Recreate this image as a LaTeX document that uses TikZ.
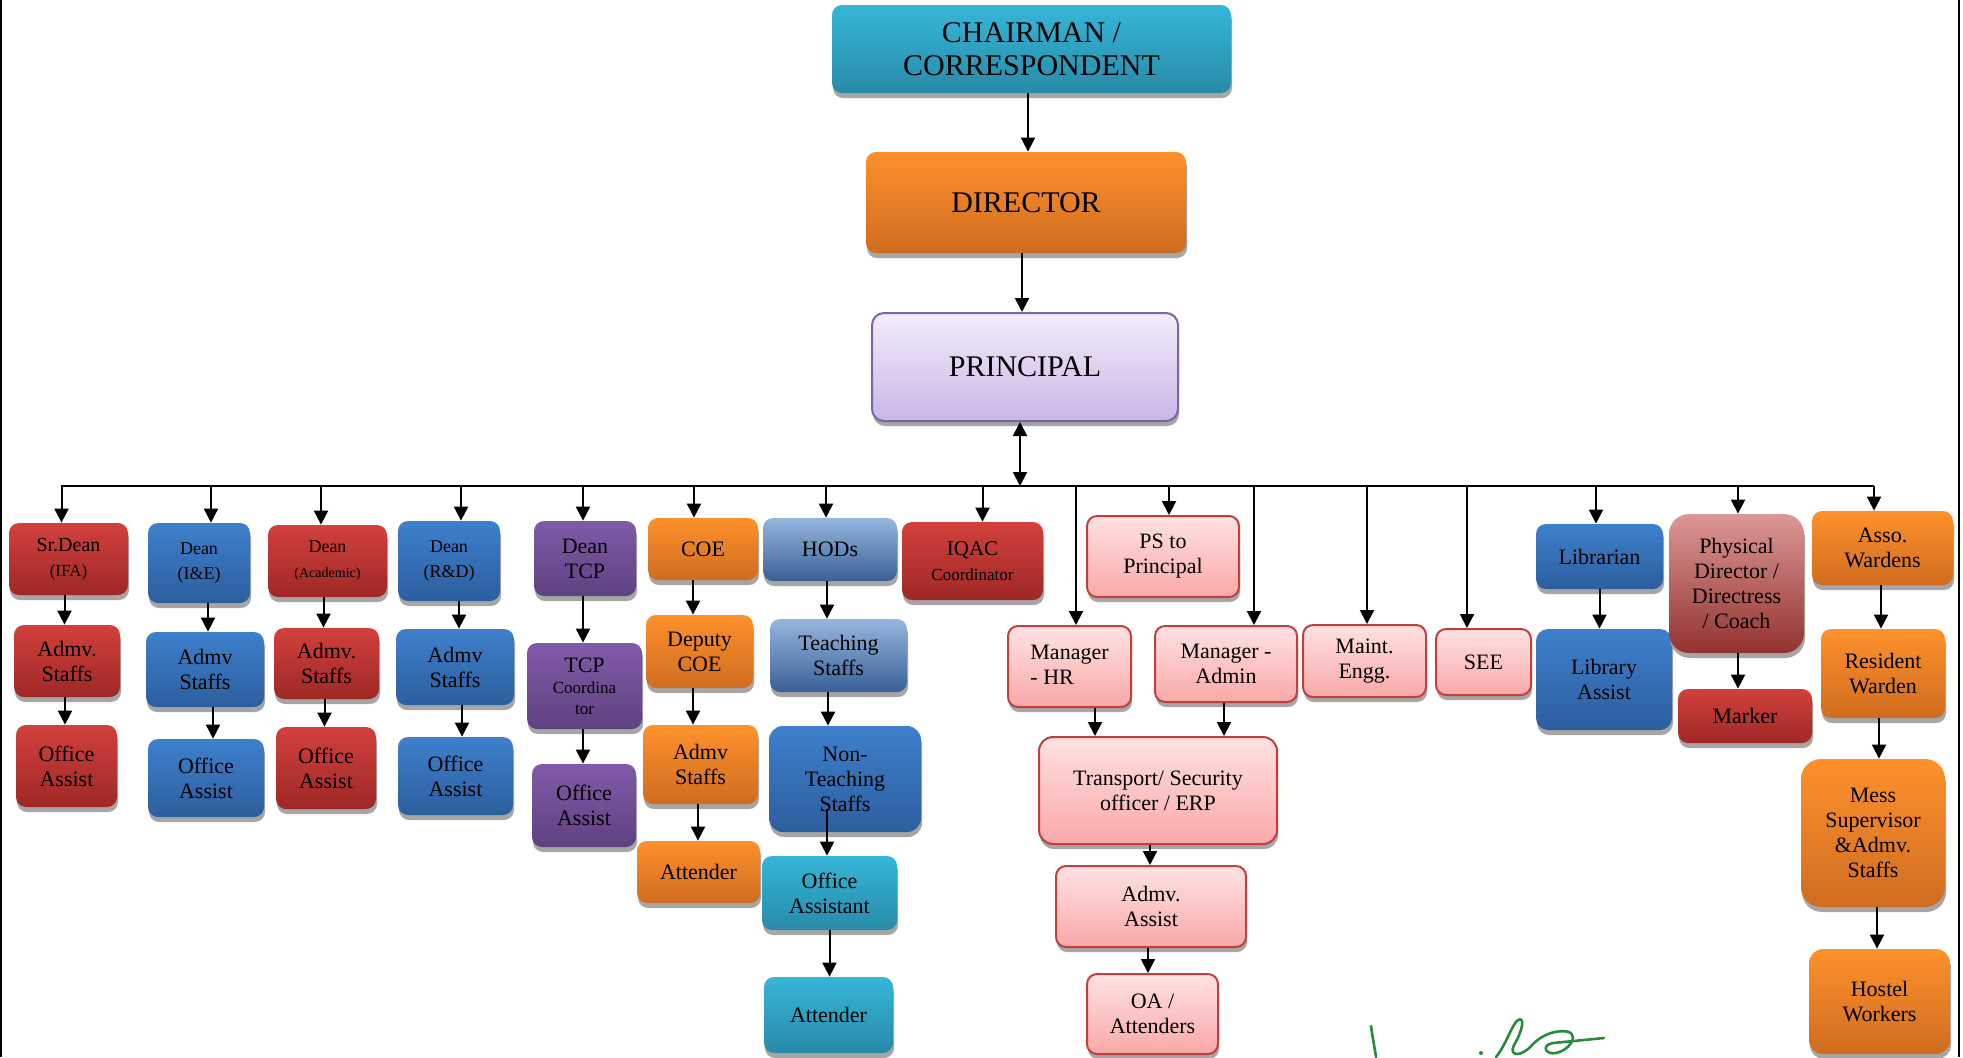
\documentclass[tikz,border=0pt]{standalone}
\usepackage{fontspec}
\setmainfont{Liberation Serif}
\usetikzlibrary{arrows.meta,shadows}
\definecolor{redtop}{RGB}{210,64,60}
\definecolor{redbot}{RGB}{158,40,38}
\definecolor{bluetop}{RGB}{62,128,204}
\definecolor{bluebot}{RGB}{44,94,158}
\definecolor{purptop}{RGB}{128,90,168}
\definecolor{purpbot}{RGB}{94,66,128}
\definecolor{orgtop}{RGB}{253,145,44}
\definecolor{orgbot}{RGB}{208,108,32}
\definecolor{cyantop}{RGB}{54,182,216}
\definecolor{cyanbot}{RGB}{40,138,168}
\definecolor{steeltop}{RGB}{150,182,222}
\definecolor{steelbot}{RGB}{58,96,150}
\definecolor{pinktop}{RGB}{255,226,226}
\definecolor{pinkbot}{RGB}{250,168,168}
\definecolor{pinkborder}{RGB}{192,64,64}
\definecolor{lavtop}{RGB}{243,237,250}
\definecolor{lavbot}{RGB}{202,182,230}
\definecolor{lavborder}{RGB}{128,100,162}
\definecolor{phystop}{RGB}{220,152,150}
\definecolor{physbot}{RGB}{146,50,48}
\definecolor{siggreen}{RGB}{40,140,60}
\newcommand\orgbox[7]{\node[#2, minimum width={(#5-#3)*0.5pt}, minimum height={(#6-#4)*0.5pt}] (#1) at ({(#3+#5)/2},{(#4+#6)/2}) {#7};}
\newcommand\dn[3][0pt]{\draw[arr] ([xshift=#1]#2.south) -- ([xshift=#1]#2.south |- #3.north);}
\newcommand\fb[2][0pt]{\draw[arr] ([xshift=#1]#2.north |- bus) -- ([xshift=#1]#2.north);}
\newcommand\fs[1]{\fontsize{#1}{12.5}\selectfont}
\begin{document}
\begin{tikzpicture}[x=0.5pt,y=-0.5pt,
  box/.style={rounded corners=5pt, align=center, inner sep=1pt, text=black,
    font=\fontsize{11}{12.5}\selectfont,
    drop shadow={shadow xshift=0.5pt, shadow yshift=-2.5pt, fill=black!35, opacity=1}},
  cred/.style={box, top color=redtop, bottom color=redbot},
  cblue/.style={box, top color=bluetop, bottom color=bluebot},
  cpurp/.style={box, top color=purptop, bottom color=purpbot},
  corg/.style={box, top color=orgtop, bottom color=orgbot},
  ccyan/.style={box, top color=cyantop, bottom color=cyanbot},
  csteel/.style={box, top color=steeltop, bottom color=steelbot},
  cpink/.style={box, draw=pinkborder, line width=1pt, top color=pinktop, bottom color=pinkbot},
  clav/.style={box, draw=lavborder, line width=1pt, top color=lavtop, bottom color=lavbot},
  cphys/.style={box, top color=phystop, bottom color=physbot},
  arr/.style={line width=1pt, -{Triangle[length=7pt,width=7pt]}},
  arrboth/.style={line width=1pt, {Triangle[length=7pt,width=7pt]}-{Triangle[length=7pt,width=7pt]}},
  busline/.style={line width=1pt},
  sig/.style={draw=siggreen, line width=1.3pt, line cap=round, line join=round}]
\useasboundingbox (0,0) rectangle (1963,1057);
\draw[line width=1pt] (1,0) -- (1,1057);
\draw[line width=1pt] (1959,0) -- (1959,1057);

% top chain
\orgbox{chair}{ccyan, font=\fontsize{15}{16.5}\selectfont}{832}{5}{1231}{93}{CHAIRMAN /\\CORRESPONDENT}
\orgbox{director}{corg, font=\fontsize{15}{16.5}\selectfont}{866}{152}{1186}{253}{DIRECTOR}
\orgbox{principal}{clav, rounded corners=6pt, font=\fontsize{15}{16.5}\selectfont}{872}{313}{1178}{421}{PRINCIPAL}

% column 1
\orgbox{srdean}{cred}{9}{523}{128}{595}{{\fs{10}Sr.Dean}\\{\fs{8.5}(IFA)}}
\orgbox{adm1}{cred}{14}{625}{120}{697}{Admv.\\Staffs}
\orgbox{off1}{cred}{16}{725}{117}{807}{Office\\Assist}
% column 2
\orgbox{deanie}{cblue, font=\fontsize{9}{12.5}\selectfont}{148}{523}{250}{603}{Dean\\(I\&E)}
\orgbox{adm2}{cblue}{146}{632}{264}{707}{Admv\\Staffs}
\orgbox{off2}{cblue}{148}{739}{264}{817}{Office\\Assist}
% column 3
\orgbox{deanac}{cred}{268}{525}{387}{597}{{\fs{9}Dean}\\{\fs{7}(Academic)}}
\orgbox{adm3}{cred}{274}{628}{379}{699}{Admv.\\Staffs}
\orgbox{off3}{cred}{276}{727}{376}{809}{Office\\Assist}
% column 4
\orgbox{deanrd}{cblue, font=\fontsize{9}{12.5}\selectfont}{398}{521}{500}{601}{Dean\\(R\&D)}
\orgbox{adm4}{cblue}{396}{629}{514}{705}{Admv\\Staffs}
\orgbox{off4}{cblue}{398}{737}{513}{815}{Office\\Assist}
% column 5
\orgbox{deantcp}{cpurp}{534}{521}{636}{596}{Dean\\TCP}
\orgbox{tcpc}{cpurp}{527}{643}{642}{729}{{\fs{11}TCP}\\[-2pt]{\fs{8.5}Coordina}\\[-2pt]{\fs{8.5}tor}}
\orgbox{off5}{cpurp}{532}{764}{636}{847}{Office\\Assist}
% column 6
\orgbox{coe}{corg}{648}{518}{758}{580}{COE}
\orgbox{dcoe}{corg}{646}{615}{753}{688}{Deputy\\COE}
\orgbox{adm5}{corg}{643}{725}{758}{804}{Admv\\Staffs}
\orgbox{att1}{corg}{637}{841}{760}{903}{Attender}
% column 7
\orgbox{hods}{csteel}{763}{518}{897}{581}{HODs}
\orgbox{teach}{csteel}{770}{619}{907}{692}{Teaching\\Staffs}
\orgbox{nonteach}{cblue, rounded corners=7pt}{769}{726}{921}{832}{Non-\\Teaching\\Staffs}
\orgbox{offa}{ccyan}{762}{856}{897}{930}{Office\\Assistant}
\orgbox{att2}{ccyan}{764}{977}{893}{1053}{Attender}
% IQAC
\orgbox{iqac}{cred}{902}{522}{1043}{600}{{\fs{10.5}IQAC}\\{\fs{8.5}Coordinator}}
% pink group
\orgbox{ps}{cpink}{1087}{516}{1239}{597}{PS to\\Principal}
\orgbox{mhr}{cpink}{1008}{626}{1131}{707}{\begin{tabular}{@{}l@{}}Manager\\- HR\end{tabular}}
\orgbox{madm}{cpink}{1155}{626}{1297}{702}{Manager -\\Admin}
\orgbox{maint}{cpink}{1303}{625}{1426}{697}{Maint.\\Engg.}
\orgbox{see}{cpink}{1436}{629}{1531}{695}{SEE}
\orgbox{trans}{cpink, rounded corners=7pt}{1039}{737}{1277}{844}{Transport/ Security\\officer / ERP}
\orgbox{admva}{cpink}{1056}{866}{1246}{947}{Admv.\\Assist}
\orgbox{oa}{cpink}{1087}{974}{1218}{1054}{OA /\\Attenders}
% library
\orgbox{lib}{cblue}{1536}{524}{1663}{589}{Librarian}
\orgbox{liba}{cblue, rounded corners=6pt}{1536}{629}{1672}{730}{Library\\Assist}
% physical
\orgbox{phys}{cphys, rounded corners=10pt}{1669}{514}{1804}{653}{Physical\\Director /\\Directress\\/ Coach}
\orgbox{marker}{cred}{1678}{689}{1812}{743}{Marker}
% wardens
\orgbox{asso}{corg}{1812}{511}{1953}{585}{Asso.\\Wardens}
\orgbox{resw}{corg}{1821}{629}{1945}{718}{Resident\\Warden}
\orgbox{mess}{corg, rounded corners=10pt}{1801}{759}{1945}{907}{Mess\\Supervisor\\\&Admv.\\Staffs}
\orgbox{hostel}{corg, rounded corners=7pt}{1809}{949}{1950}{1054}{Hostel\\Workers}

% top connectors
\dn[-1.75pt]{chair}{director}
\dn[-2pt]{director}{principal}
\coordinate (bus) at (0,486);
\draw[arrboth] ([xshift=-2.5pt]principal.south) -- ([xshift=-2.5pt]principal.south |- bus);
\draw[busline] ([xshift=-3.75pt]srdean.north |- bus) -- ([xshift=-4.25pt]asso.north |- bus);

% bus drops
\fb[-3.5pt]{srdean}
\fb[6pt]{deanie}
\fb[-3.25pt]{deanac}
\fb[6pt]{deanrd}
\fb[-1pt]{deantcp}
\fb[-4.5pt]{coe}
\fb[-2pt]{hods}
\fb[5pt]{iqac}
\fb[3.25pt]{mhr}
\fb[3pt]{ps}
\fb[14pt]{madm}
\fb[1.25pt]{maint}
\fb[-8.25pt]{see}
\fb[-1.75pt]{lib}
\fb[0.75pt]{phys}
\fb[-4.25pt]{asso}

% column chains
\dn[-2pt]{srdean}{adm1}
\dn[-1pt]{adm1}{off1}
\dn[4.5pt]{deanie}{adm2}
\dn[4pt]{adm2}{off2}
\dn[-2pt]{deanac}{adm3}
\dn[-1pt]{adm3}{off3}
\dn[5pt]{deanrd}{adm4}
\dn[3.5pt]{adm4}{off4}
\dn[-1pt]{deantcp}{tcpc}
\dn[-0.75pt]{tcpc}{off5}
\dn[-5pt]{coe}{dcoe}
\dn[-3.25pt]{dcoe}{adm5}
\dn[-1.25pt]{adm5}{att1}
\dn[-1.5pt]{hods}{teach}
\dn[-5.25pt]{teach}{nonteach}
\draw[arr] ([xshift=-9pt,yshift=11.5pt]nonteach.south) -- ([xshift=-9pt]nonteach.south |- offa.north);
\dn{offa}{att2}
\dn[12.75pt]{mhr}{trans}
\dn[-1pt]{madm}{trans}
\dn[-4pt]{trans}{admva}
\dn[-1.5pt]{admva}{oa}
\dn{lib}{liba}
\dn[0.75pt]{phys}{marker}
\dn[-0.75pt]{asso}{resw}
\dn[-2pt]{resw}{mess}
\dn[2pt]{mess}{hostel}

% signature
\draw[sig] (1371,1026) .. controls (1373,1040) and (1375,1050) .. (1376,1057);
\fill[siggreen] (1481,1053) circle (1pt);
\draw[sig] (1496,1057) .. controls (1506,1045) and (1512,1024) .. (1518,1020)
  .. controls (1525,1016) and (1523,1030) .. (1514,1045)
  .. controls (1508,1057) and (1522,1057) .. (1532,1045)
  .. controls (1542,1034) and (1558,1029) .. (1569,1032)
  .. controls (1578,1036) and (1570,1050) .. (1556,1053)
  .. controls (1545,1055) and (1541,1045) .. (1553,1043) -- (1604,1038);
\end{tikzpicture}
\end{document}
